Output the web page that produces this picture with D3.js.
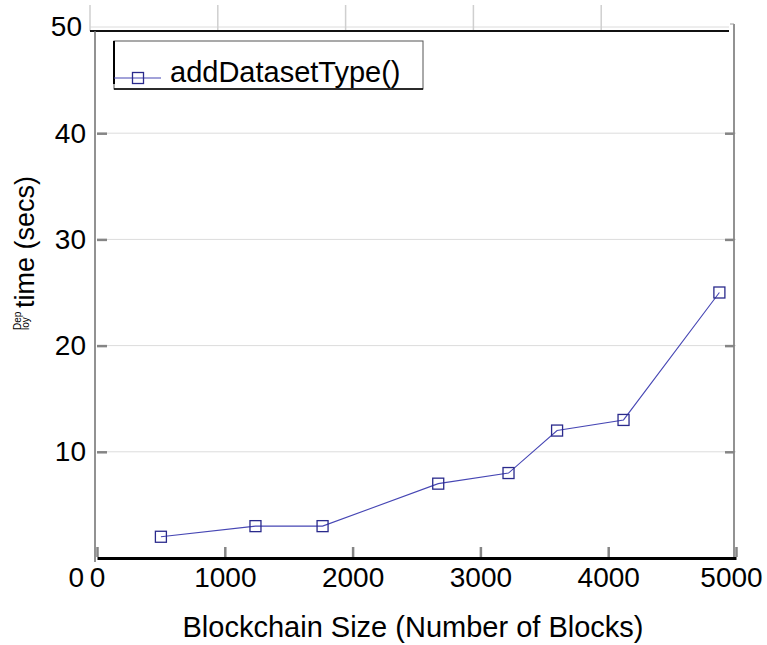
<!DOCTYPE html>
<html>
<head>
<meta charset="utf-8">
<script src="https://cdn.jsdelivr.net/npm/d3@7"></script>
<style>
  html, body { margin: 0; padding: 0; background: #fff; }
  svg { display: block; font-family: Arial, "Liberation Sans", sans-serif; }
</style>
</head>
<body>
<svg id="chart" width="767" height="645"></svg>
<script>
// -- Data --
const blockCounts = [500, 1240, 1765, 2670, 3220, 3600, 4120, 4870];
const deployTimes = [2, 3, 3, 7, 8, 12, 13, 25];
const xTicks = [0, 1000, 2000, 3000, 4000, 5000];
const yTicks = [0, 10, 20, 30, 40, 50];
const seriesName = "addDatasetType()";

const svg = d3.select("#chart");

const x = d3.scaleLinear().domain([0, 5000]).range([97, 736]);
const y = d3.scaleLinear().domain([0, 50]).range([558, 27]);

const lineColor = "#4646b4";
const markerColor = "#2a2a8c";
const tickGray = "#858585";
const topShift = -7; // the top axis is drawn slightly off to the left in the original

// Gridlines
svg.append("g")
    .selectAll("line")
    .data(yTicks.filter(d => d > 0))
    .join("line")
    .attr("x1", d => d === 50 ? x(0) + topShift : x(0))
    .attr("x2", d => d === 50 ? x(5000) + topShift : x(5000))
    .attr("y1", d => y(d))
    .attr("y2", d => y(d))
    .attr("stroke", "#dcdcdc")
    .attr("stroke-width", 1);

// Top (shifted) ticks and thick line
svg.append("g")
    .selectAll("line")
    .data(xTicks.slice(0, -1))
    .join("line")
    .attr("x1", d => x(d) + topShift)
    .attr("x2", d => x(d) + topShift)
    .attr("y1", 5)
    .attr("y2", 31)
    .attr("stroke", "#cfcfcf")
    .attr("stroke-width", 1.5);

svg.append("line")
    .attr("x1", x(0) + topShift).attr("x2", x(5000) + topShift)
    .attr("y1", 31).attr("y2", 31)
    .attr("stroke", "#111").attr("stroke-width", 2.2);

// Left axis line
svg.append("line")
    .attr("x1", x(0) - 2).attr("x2", x(0) - 2)
    .attr("y1", 31).attr("y2", y(0) + 4)
    .attr("stroke", "#6e6e6e").attr("stroke-width", 1.5);

// Right axis line + stub
svg.append("line")
    .attr("x1", x(5000) - 2).attr("x2", x(5000) - 2)
    .attr("y1", 24).attr("y2", y(0))
    .attr("stroke", "#6e6e6e").attr("stroke-width", 1.5);
svg.append("line")
    .attr("x1", x(5000) + topShift + 1).attr("x2", x(5000) - 2)
    .attr("y1", 24).attr("y2", 24)
    .attr("stroke", "#9a9a9a").attr("stroke-width", 1);

// Left y axis: inward ticks and labels
const yAxis = svg.append("g")
    .attr("transform", `translate(${x(0)},0)`)
    .call(d3.axisLeft(y).tickValues(yTicks).tickSize(-10).tickPadding(11).tickFormat(d3.format("d")));
yAxis.select(".domain").remove();
yAxis.selectAll(".tick line")
    .attr("stroke", tickGray).attr("stroke-width", 2.5)
    .attr("display", d => (d === 0 || d === 50) ? "none" : null);
yAxis.selectAll(".tick text")
    .attr("fill", "#000")
    .style("font-size", "28px")
    .attr("transform", d => d === 0 ? "translate(-2,20)" : (d === 50 ? "translate(-4,0)" : null));

// Right y axis: inward ticks
const yAxisR = svg.append("g")
    .attr("transform", `translate(${x(5000) - 2},0)`)
    .call(d3.axisRight(y).tickValues(yTicks.filter(d => d > 0 && d < 50)).tickSize(-9).tickFormat(""));
yAxisR.select(".domain").remove();
yAxisR.selectAll(".tick line").attr("stroke", tickGray).attr("stroke-width", 2.5);

// Bottom x axis
const xAxis = svg.append("g")
    .attr("transform", `translate(0,${y(0)})`)
    .call(d3.axisBottom(x).tickValues(xTicks).tickSize(-10).tickSizeOuter(0).tickPadding(9).tickFormat(d3.format("d")));
xAxis.select(".domain")
    .attr("stroke", "#000").attr("stroke-width", 3.2);
xAxis.selectAll(".tick line")
    .attr("stroke", tickGray).attr("stroke-width", 2.5)
    .attr("transform", "translate(0,-1)");
xAxis.selectAll(".tick text")
    .attr("fill", "#000")
    .style("font-size", "28px")
    .attr("transform", d => d === 5000 ? "translate(-5,0)" : null);

// Series line
const line = d3.line()
    .x((d, i) => x(blockCounts[i]))
    .y(d => y(d));

svg.append("path")
    .datum(deployTimes)
    .attr("d", line)
    .attr("fill", "none")
    .attr("stroke", lineColor)
    .attr("stroke-width", 1.1);

// Square markers
const sq = 11;
svg.append("g")
    .selectAll("rect")
    .data(deployTimes)
    .join("rect")
    .attr("x", (d, i) => x(blockCounts[i]) - sq / 2)
    .attr("y", d => y(d) - sq / 2)
    .attr("width", sq)
    .attr("height", sq)
    .attr("fill", "none")
    .attr("stroke", markerColor)
    .attr("stroke-width", 1.3);

// Legend
const legend = svg.append("g");
legend.append("rect")
    .attr("x", 114).attr("y", 41).attr("width", 309).attr("height", 48)
    .attr("fill", "#fff").attr("stroke", "#555").attr("stroke-width", 1);
legend.append("line")
    .attr("x1", 114).attr("x2", 114).attr("y1", 41).attr("y2", 84)
    .attr("stroke", "#000").attr("stroke-width", 2);
legend.append("line")
    .attr("x1", 114).attr("x2", 423).attr("y1", 89).attr("y2", 89)
    .attr("stroke", "#000").attr("stroke-width", 1.3);
legend.append("line")
    .attr("x1", 114).attr("x2", 161).attr("y1", 78).attr("y2", 78)
    .attr("stroke", lineColor).attr("stroke-width", 1.1);
legend.append("rect")
    .attr("x", 138 - sq / 2).attr("y", 78 - sq / 2).attr("width", sq).attr("height", sq)
    .attr("fill", "none").attr("stroke", markerColor).attr("stroke-width", 1.3);
legend.append("text")
    .attr("x", 170).attr("y", 82)
    .style("font-size", "29px")
    .text(seriesName);

// Axis titles
svg.append("text")
    .attr("x", 413).attr("y", 637)
    .attr("text-anchor", "middle")
    .style("font-size", "29px")
    .text("Blockchain Size (Number of Blocks)");

const yTitle = svg.append("g").attr("transform", "translate(34,332) rotate(-90)");
yTitle.append("text").attr("x", 2).attr("y", -13).style("font-size", "10px").text("Dep");
yTitle.append("text").attr("x", 2).attr("y", -5).style("font-size", "10px").text("loy");
yTitle.append("text").attr("x", 24).attr("y", 0).style("font-size", "27px").text("time (secs)");
</script>
</body>
</html>
